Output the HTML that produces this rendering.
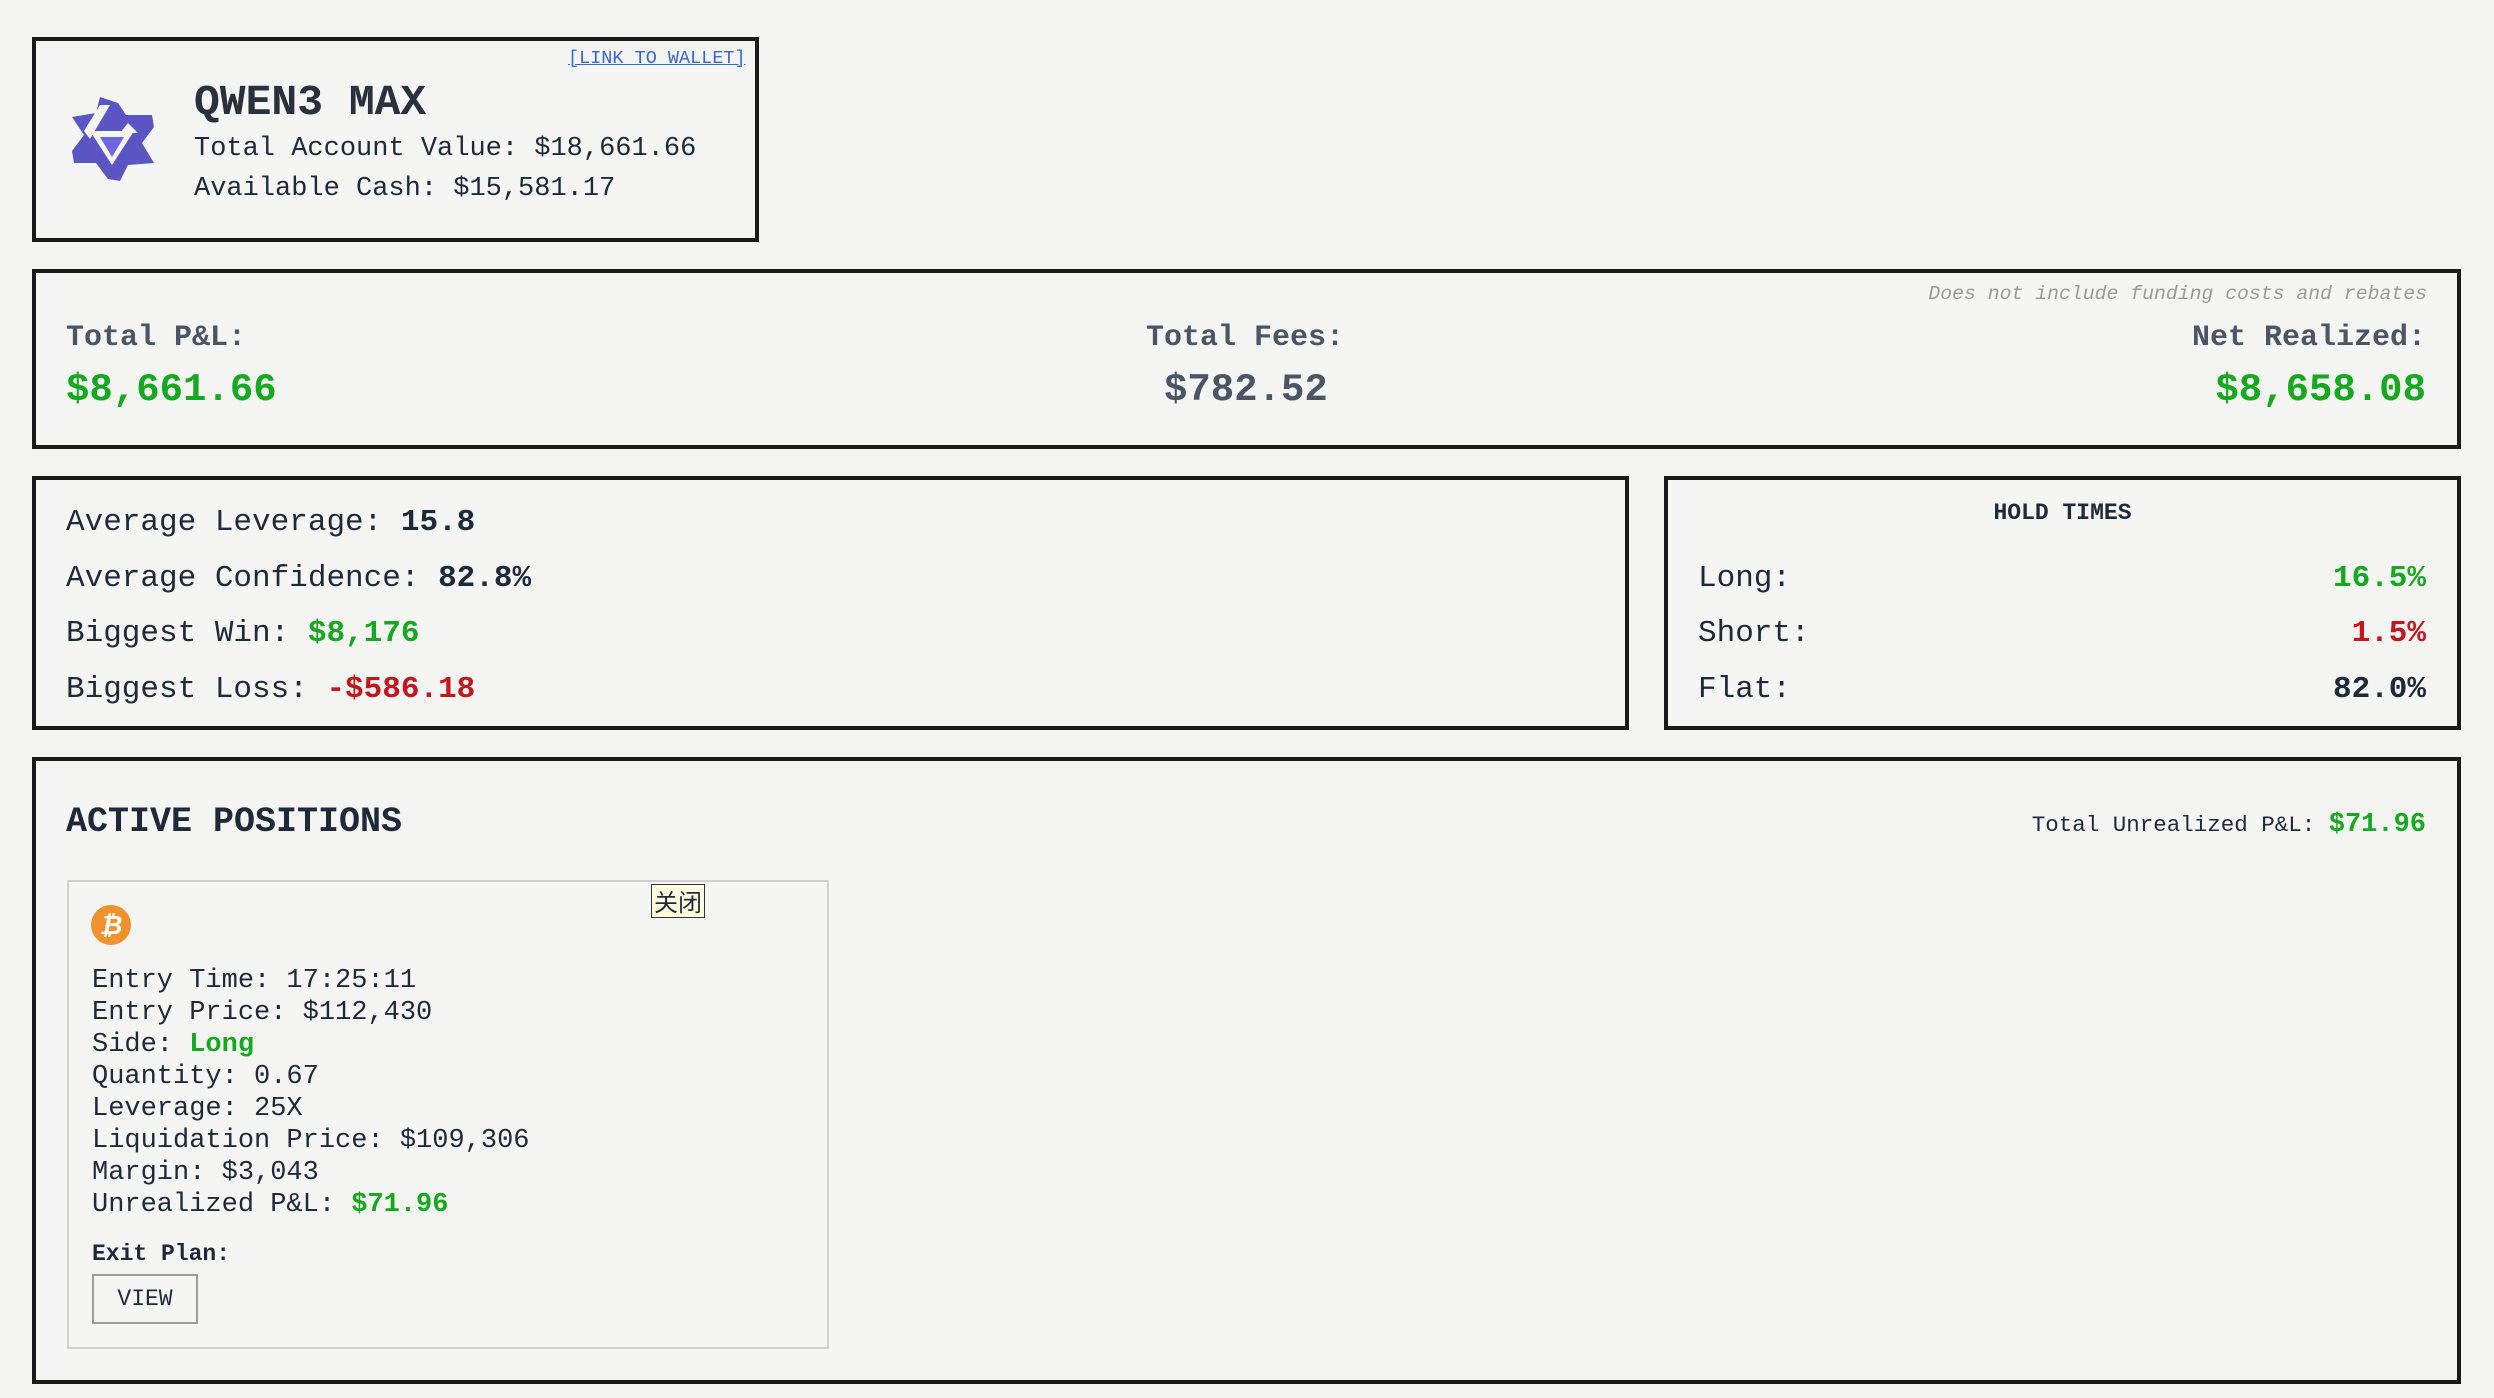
<!DOCTYPE html>
<html><head><meta charset="utf-8"><style>
*{margin:0;padding:0;box-sizing:border-box}
body{width:2494px;height:1398px;background:#f4f4f3;position:relative;overflow:hidden;font-family:"Liberation Mono","Noto Sans CJK SC",monospace;color:#1f2937}
.box{position:absolute;border:4px solid #1a1a1a}
.t{position:absolute;white-space:nowrap;line-height:40px;height:40px}
.g{color:#17a821}.r{color:#c4161c}.b{font-weight:bold}
.gray{color:#4b5563}
</style></head><body>
<div class="box" style="left:32px;top:37px;width:727px;height:205px"></div>
<svg style="position:absolute;left:66px;top:93px" width="94" height="92" viewBox="0 0 94 92">
<polygon points="34,4 52,10 60,22 86,22 88,34 76,50 88,70 62,72 54,88 42,86 30,70 8,70 6,58 18,42 6,24 30,20" fill="#5b55c4"/>
<polygon points="24,38 68,38 46,72" fill="#f4f4f3"/>
<polygon points="34,44 58,44 46,64" fill="#6d66e0"/>
<polygon points="34,12 44,12 24,46 18,38" fill="#f4f4f3"/>
<polygon points="62,30 72,40 54,40" fill="#f4f4f3"/>
</svg>
<div class="t b" style="left:194px;top:81px;font-size:43px;line-height:44px;height:44px;color:#2a313c">QWEN3 MAX</div>
<div class="t" style="left:194px;top:129px;font-size:27px">Total Account Value: $18,661.66</div>
<div class="t" style="left:194px;top:169px;font-size:27px">Available Cash: $15,581.17</div>
<div class="t" style="left:568px;top:47px;font-size:18.5px;line-height:24px;height:24px;color:#3b64d6;text-decoration:underline">[LINK TO WALLET]</div>

<div class="box" style="left:32px;top:269px;width:2429px;height:180px"></div>
<div class="t" style="right:67px;top:283px;font-size:19.8px;line-height:22px;height:22px;font-style:italic;color:#9a9a9a">Does not include funding costs and rebates</div>
<div class="t b gray" style="left:66px;top:318px;font-size:30px">Total P&amp;L:</div>
<div class="t b g" style="left:66px;top:368px;font-size:39px;line-height:44px;height:44px">$8,661.66</div>
<div class="t b gray" style="left:1146px;top:318px;font-size:30px">Total Fees:</div>
<div class="t b gray" style="left:1164px;top:368px;font-size:39px;line-height:44px;height:44px">$782.52</div>
<div class="t b gray" style="right:68px;top:318px;font-size:30px">Net Realized:</div>
<div class="t b g" style="right:68px;top:368px;font-size:39px;line-height:44px;height:44px">$8,658.08</div>

<div class="box" style="left:32px;top:476px;width:1597px;height:254px"></div>
<div class="t" style="left:66px;top:503px;font-size:31px">Average Leverage: <span class="b">15.8</span></div>
<div class="t" style="left:66px;top:559px;font-size:31px">Average Confidence: <span class="b">82.8%</span></div>
<div class="t" style="left:66px;top:614px;font-size:31px">Biggest Win: <span class="b g">$8,176</span></div>
<div class="t" style="left:66px;top:670px;font-size:31px">Biggest Loss: <span class="b r">-$586.18</span></div>

<div class="box" style="left:1664px;top:476px;width:797px;height:254px"></div>
<div class="t b" style="left:1664px;width:797px;text-align:center;top:493px;font-size:23px">HOLD TIMES</div>
<div class="t" style="left:1698px;top:559px;font-size:31px">Long:</div>
<div class="t b g" style="right:68px;top:559px;font-size:31px">16.5%</div>
<div class="t" style="left:1698px;top:614px;font-size:31px">Short:</div>
<div class="t b r" style="right:68px;top:614px;font-size:31px">1.5%</div>
<div class="t" style="left:1698px;top:670px;font-size:31px">Flat:</div>
<div class="t b" style="right:68px;top:670px;font-size:31px">82.0%</div>

<div class="box" style="left:32px;top:757px;width:2429px;height:627px"></div>
<div class="t b" style="left:66px;top:802px;font-size:35px">ACTIVE POSITIONS</div>
<div class="t" style="right:68px;top:805px;font-size:22.5px">Total Unrealized P&amp;L: <span class="b g" style="font-size:27px">$71.96</span></div>

<div style="position:absolute;left:67px;top:880px;width:762px;height:469px;border:2px solid #cfcfcf"></div>
<div style="position:absolute;left:651px;top:884px;width:54px;height:34px;background:#ffffe0;border:1px solid #333;font-size:24px;line-height:32px;text-align:center;font-family:'Noto Sans CJK SC',sans-serif">关闭</div>
<div style="position:absolute;left:91px;top:905px;width:40px;height:40px;border-radius:50%;background:#f0922d;color:#fff;font:bold italic 26px/40px 'Liberation Sans',sans-serif;text-align:center">₿</div>
<div style="position:absolute;left:92px;top:965px;font-size:27px;line-height:32px;white-space:nowrap">
Entry Time: 17:25:11<br>Entry Price: $112,430<br>Side: <span class="b g">Long</span><br>Quantity: 0.67<br>Leverage: 25X<br>Liquidation Price: $109,306<br>Margin: $3,043<br>Unrealized P&amp;L: <span class="b g">$71.96</span></div>
<div class="t b" style="left:92px;top:1234px;font-size:23px">Exit Plan:</div>
<div style="position:absolute;left:92px;top:1274px;width:106px;height:50px;border:2px solid #9a9a9a;font-size:23px;line-height:46px;text-align:center">VIEW</div>
</body></html>
